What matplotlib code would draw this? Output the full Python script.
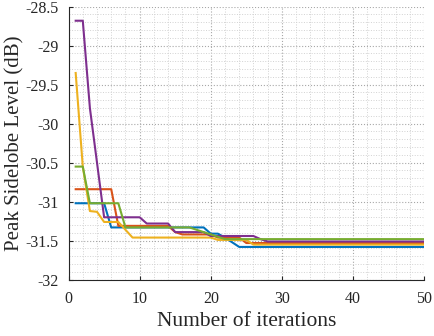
import numpy as np
import matplotlib.pyplot as plt
from matplotlib.ticker import MultipleLocator, FuncFormatter

plt.rcParams.update({
    "font.family": "serif",
    "font.serif": ["Liberation Serif", "DejaVu Serif"],
    "axes.unicode_minus": False,
})

# ---- data: peak sidelobe level (dB) per iteration, five runs ----
iters = np.arange(1, 51)
run_blue = [-31.02, -31.02, -31.02, -31.02, -31.02, -31.33, -31.33, -31.33, -31.33, -31.33,
            -31.33, -31.33, -31.33, -31.33, -31.33, -31.33, -31.33, -31.33, -31.33, -31.41,
            -31.41, -31.46, -31.52, -31.58, -31.58, -31.58, -31.58, -31.58, -31.58, -31.58,
            -31.58, -31.58, -31.58, -31.58, -31.58, -31.58, -31.58, -31.58, -31.58, -31.58,
            -31.58, -31.58, -31.58, -31.58, -31.58, -31.58, -31.58, -31.58, -31.58, -31.58]
run_orange = [-30.84, -30.84, -30.84, -30.84, -30.84, -30.84, -31.31, -31.31, -31.31, -31.31,
              -31.31, -31.31, -31.31, -31.31, -31.39, -31.42, -31.42, -31.42, -31.42, -31.42,
              -31.46, -31.46, -31.46, -31.46, -31.53, -31.53, -31.53, -31.53, -31.53, -31.53,
              -31.53, -31.53, -31.53, -31.53, -31.53, -31.53, -31.53, -31.53, -31.53, -31.53,
              -31.53, -31.53, -31.53, -31.53, -31.53, -31.53, -31.53, -31.53, -31.53, -31.53]
run_yellow = [-29.35, -30.55, -31.12, -31.13, -31.26, -31.26, -31.26, -31.36, -31.46, -31.46,
              -31.46, -31.46, -31.46, -31.46, -31.46, -31.46, -31.46, -31.46, -31.46, -31.46,
              -31.49, -31.49, -31.49, -31.49, -31.49, -31.55, -31.55, -31.55, -31.55, -31.55,
              -31.55, -31.55, -31.55, -31.55, -31.55, -31.55, -31.55, -31.55, -31.55, -31.55,
              -31.55, -31.55, -31.55, -31.55, -31.55, -31.55, -31.55, -31.55, -31.55, -31.55]
run_purple = [-28.68, -28.68, -29.80, -30.50, -31.20, -31.20, -31.20, -31.20, -31.20, -31.20,
              -31.28, -31.28, -31.28, -31.28, -31.39, -31.39, -31.39, -31.39, -31.39, -31.44,
              -31.44, -31.44, -31.44, -31.44, -31.44, -31.44, -31.48, -31.51, -31.51, -31.51,
              -31.51, -31.51, -31.51, -31.51, -31.51, -31.51, -31.51, -31.51, -31.51, -31.51,
              -31.51, -31.51, -31.51, -31.51, -31.51, -31.51, -31.51, -31.51, -31.51, -31.51]
run_green = [-30.55, -30.55, -31.02, -31.02, -31.02, -31.02, -31.02, -31.33, -31.33, -31.33,
             -31.33, -31.33, -31.33, -31.33, -31.33, -31.33, -31.33, -31.36, -31.39, -31.42,
             -31.45, -31.48, -31.48, -31.48, -31.48, -31.48, -31.48, -31.48, -31.48, -31.48,
             -31.48, -31.48, -31.48, -31.48, -31.48, -31.48, -31.48, -31.48, -31.48, -31.48,
             -31.48, -31.48, -31.48, -31.48, -31.48, -31.48, -31.48, -31.48, -31.48, -31.48]

# MATLAB default colour order
runs = [(run_blue, "#0072BD"), (run_orange, "#D95319"), (run_yellow, "#EDB120"),
        (run_purple, "#7E2F8E"), (run_green, "#77AC30")]

fig = plt.figure(figsize=(4.34, 3.36), dpi=100)
ax = fig.add_axes([0.158, 0.1676, 0.819, 0.8125])

for vals, col in runs:
    ax.plot(iters, vals, color=col, lw=1.5)

ax.set_xlim(0, 50)
ax.set_ylim(-32, -28.5)
ax.xaxis.set_major_locator(MultipleLocator(10))
ax.xaxis.set_minor_locator(MultipleLocator(2))
ax.yaxis.set_major_locator(MultipleLocator(0.5))
ax.yaxis.set_minor_locator(MultipleLocator(0.1))
ax.yaxis.set_major_formatter(FuncFormatter(lambda v, _: f"{v:g}"))

ax.grid(which="major", ls=":", color="#a8a8a8", lw=0.8)
ax.grid(which="minor", ls=":", color="#d2d2d2", lw=0.7)
ax.set_axisbelow(True)

for s in ("top", "right"):
    ax.spines[s].set_visible(False)
for s in ("left", "bottom"):
    ax.spines[s].set_color("#262626")
    ax.spines[s].set_linewidth(0.8)
ax.tick_params(which="major", direction="in", length=3, colors="#262626",
               labelsize=11.5)
ax.tick_params(axis="x", pad=8)
ax.tick_params(axis="y", pad=7)
ax.tick_params(which="minor", length=0)

ax.set_xlabel("Number of iterations", fontsize=15.5, color="#262626", labelpad=4)
ax.set_ylabel("Peak Sidelobe Level (dB)", fontsize=15, color="#262626", labelpad=1)

fig.savefig("out.png", dpi=100)
